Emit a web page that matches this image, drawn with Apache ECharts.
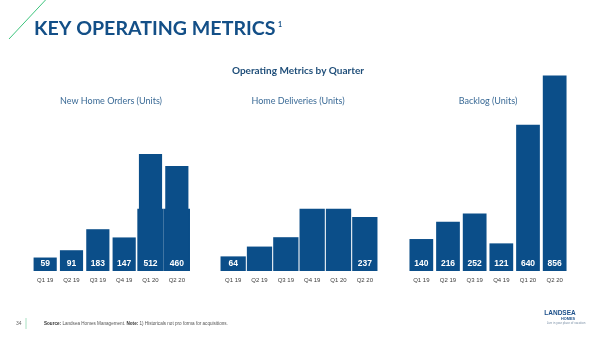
<!DOCTYPE html>
<html>
<head>
<meta charset="utf-8">
<script src="https://cdn.jsdelivr.net/npm/echarts@6/dist/echarts.min.js"></script>
<style>html,body{margin:0;padding:0;background:#fff}#c{width:600px;height:337px}</style>
</head>
<body>
<div id="c"></div>
<script>
const quarters = ['Q1 19', 'Q2 19', 'Q3 19', 'Q4 19', 'Q1 20', 'Q2 20'];
const newHomeOrders = [59, 91, 183, 147, 512, 460];
const newHomeOrdersOverlay = [null, null, null, null, 273, 273];
const homeDeliveries = [64, 107, 148, 273, 273, 237];
const deliveriesLabelShown = [true, false, false, false, false, true];
const backlog = [140, 216, 252, 121, 640, 856];
const panelTitles = ['New Home Orders (Units)', 'Home Deliveries (Units)', 'Backlog (Units)'];

const BAR = '#0b4e89';
const chart = echarts.init(document.getElementById('c'));

const grids = [
  {left: 32, width: 158, top: 65.5, bottom: 66},
  {left: 220, width: 158, top: 65.5, bottom: 66},
  {left: 408, width: 160, top: 65.5, bottom: 66}
];
function xAx(i, show) {
  return {
    type: 'category', gridIndex: i, data: quarters, show: show,
    axisLine: {show: false}, axisTick: {show: false},
    axisLabel: {color: '#404040', fontSize: 6, fontFamily: 'Liberation Sans', margin: 6, interval: 0}
  };
}
function yAx(i) {
  return {type: 'value', gridIndex: i, min: 0, max: 900, show: false, splitLine: {show: false}};
}
const labelStyle = {
  show: true, position: 'insideBottom', distance: 3,
  color: '#fff', fontWeight: 'bold', fontSize: 8.5, fontFamily: 'Liberation Sans'
};

chart.setOption({
  animation: false,
  grid: grids,
  xAxis: [xAx(0, true), xAx(1, true), xAx(2, true), xAx(0, false)],
  yAxis: [yAx(0), yAx(1), yAx(2), yAx(0)],
  series: [
    {type: 'bar', xAxisIndex: 3, yAxisIndex: 3, data: newHomeOrdersOverlay, barCategoryGap: '0%',
     itemStyle: {color: BAR}, z: 1, silent: true},
    {type: 'bar', xAxisIndex: 0, yAxisIndex: 0, data: newHomeOrders, barCategoryGap: '12%',
     itemStyle: {color: BAR}, label: labelStyle, z: 2},
    {type: 'bar', xAxisIndex: 1, yAxisIndex: 1, barCategoryGap: '4%',
     data: homeDeliveries.map((v, i) => ({value: v, label: {show: deliveriesLabelShown[i]}})),
     itemStyle: {color: BAR}, label: labelStyle, z: 2},
    {type: 'bar', xAxisIndex: 2, yAxisIndex: 2, data: backlog, barCategoryGap: '11%',
     itemStyle: {color: BAR}, label: labelStyle, z: 2}
  ],
  graphic: [
    {type: 'line', shape: {x1: 9, y1: 39, x2: 45.5, y2: 0}, style: {stroke: '#3cc47c', lineWidth: 1}},
    {type: 'text', left: 34, top: 19, style: {text: 'KEY OPERATING METRICS', fill: '#134f87',
      font: 'bold 19.6px Lato'}},
    {type: 'text', left: 278, top: 21, style: {text: '1', fill: '#134f87', font: 'bold 7px Lato'}},
    {type: 'text', x: 298, y: 71, style: {text: 'Operating Metrics by Quarter', fill: '#1f4e79',
      font: 'bold 10px Lato', textAlign: 'center', textVerticalAlign: 'middle'}},
    {type: 'text', x: 111, y: 101, style: {text: panelTitles[0], fill: '#3a6a96',
      font: '9px Lato', textAlign: 'center', textVerticalAlign: 'middle'}},
    {type: 'text', x: 298, y: 101, style: {text: panelTitles[1], fill: '#3a6a96',
      font: '9px Lato', textAlign: 'center', textVerticalAlign: 'middle'}},
    {type: 'text', x: 488, y: 101, style: {text: panelTitles[2], fill: '#3a6a96',
      font: '9px Lato', textAlign: 'center', textVerticalAlign: 'middle'}},
    {type: 'text', x: 16, y: 324, style: {text: '34', fill: '#666', font: '5px Liberation Sans',
      textVerticalAlign: 'middle'}},
    {type: 'line', shape: {x1: 26, y1: 318, x2: 26, y2: 329}, style: {stroke: '#a8e0c2', lineWidth: 1}},
    {type: 'text', x: 44, y: 324, style: {
      text: '{b|Source:} Landsea Homes Management. {b|Note:} 1) Historicals not pro forma for acquisitions.',
      fill: '#555', font: '4.6px Liberation Sans', textVerticalAlign: 'middle',
      rich: {b: {fontWeight: 'bold', fontSize: 4.6, fontFamily: 'Liberation Sans', fill: '#333'}}}},
    {type: 'text', x: 560, y: 313, style: {text: 'LANDSEA', fill: '#1b4f8a',
      font: 'bold 6.5px Liberation Sans', textAlign: 'center', textVerticalAlign: 'middle'}},
    {type: 'text', x: 568, y: 318.5, style: {text: 'HOMES', fill: '#1b4f8a',
      font: 'bold 3.8px Liberation Sans', textAlign: 'center', textVerticalAlign: 'middle'}},
    {type: 'text', x: 566, y: 323, style: {text: 'Live in your place of vacation', fill: '#7a8fa6',
      font: '3px Liberation Sans', textAlign: 'center', textVerticalAlign: 'middle'}}
  ]
});
</script>
</body>
</html>
